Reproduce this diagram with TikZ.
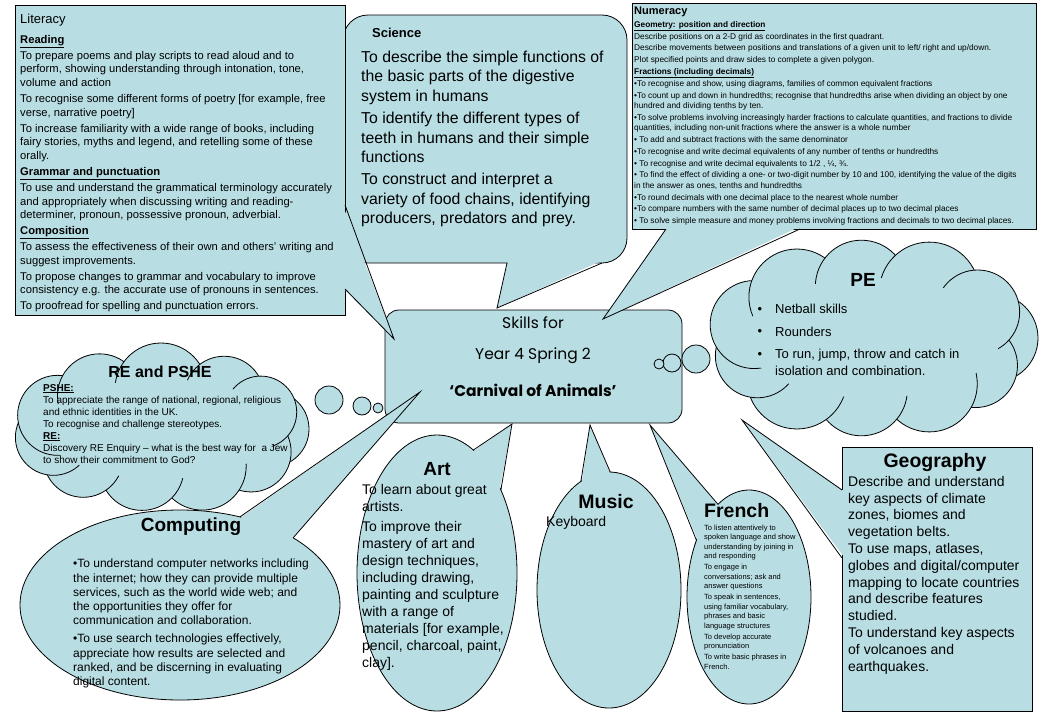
\documentclass[tikz,border=0pt]{standalone}
\usepackage{fontspec}
\setmainfont{Liberation Sans}
\newfontfamily\comicfont{Poppins}
\definecolor{skyfill}{RGB}{184,222,228}

\begin{document}
\begin{tikzpicture}[x=1pt, y=-1pt,
  bubble/.style={draw=black, line width=0.8pt, fill=skyfill},
  tailfill/.style={fill=skyfill},
  tailedge/.style={draw=black, line width=0.8pt},
  txt/.style={anchor=north west, inner sep=0pt, align=left},
  head/.style={inner sep=0pt, font=\bfseries}]
  \useasboundingbox (0,0) rectangle (1040,720);

  % centre box
  \node[bubble, rounded corners=14pt, minimum width=297pt,
        minimum height=113pt, inner sep=0pt] (skills) at (533.5,366.5) {};
  \node[inner sep=0pt, font=\comicfont\fontsize{15.5}{18}\selectfont]
    (skillsA) at (533,323) {Skills for};
  \node[inner sep=0pt, font=\comicfont\fontsize{15.5}{18}\selectfont]
    (skillsB) at (533,356) {Year 4 Spring 2};
  \node[inner sep=0pt, font=\comicfont\bfseries\fontsize{15.5}{18}\selectfont]
    (skillsC) at (533,390) {‘Carnival of Animals’};

  % where the tails point
  \coordinate (litTip) at (394,339);
  \coordinate (sciTip) at (497,308);
  \coordinate (numTip) at (603,319);
  \coordinate (compTip) at (420,392);
  \coordinate (artTip) at (512,424);
  \coordinate (musTip) at (590,425);
  \coordinate (freTip) at (650,425);
  \coordinate (geoTip) at (742,420);

  % science
  \draw[bubble, rounded corners=25pt] (343,15) rectangle (627,263);
  \fill[tailfill] (508,261) -- (sciTip) -- (601,261) -- cycle;
  \draw[tailedge] (507,263) -- (sciTip) -- (602,263);
  \node[head, anchor=west, font=\bfseries\fontsize{13}{15}\selectfont]
    (sciHead) at (372,33) {Science};
  \node[txt, font=\fontsize{15.8}{19.3}\selectfont] (sciText) at (361,51)
    {To describe the simple functions of\\
     the basic parts of the digestive\\
     system in humans\\[3.2pt]
     To identify the different types of\\
     teeth in humans and their simple\\
     functions\\[3.2pt]
     To construct and interpret a\\
     variety of food chains, identifying\\
     producers, predators and prey.};

  % literacy
  \draw[bubble] (15,5) rectangle (345,315);
  \fill[tailfill] (343,206) -- (litTip) -- (343,288) -- cycle;
  \draw[tailedge] (345,205) -- (litTip) -- (345,289);
  \node[anchor=west, inner sep=0pt, font=\fontsize{13}{15}\selectfont]
    (litHead) at (20,20) {Literacy};
  \node[txt, font=\fontsize{11.2}{13.7}\selectfont] (litText) at (20,35)
    {\textbf{\underline{Reading}}\\[2.2pt]
     To prepare poems and play scripts to read aloud and to\\
     perform, showing understanding through intonation, tone,\\
     volume and action\\[2.2pt]
     To recognise some different forms of poetry [for example, free\\
     verse, narrative poetry]\\[2.2pt]
     To increase familiarity with a wide range of books, including\\
     fairy stories, myths and legend, and retelling some of these\\
     orally.\\[2.2pt]
     \textbf{\underline{Grammar and punctuation}}\\[2.2pt]
     To use and understand the grammatical terminology accurately\\
     and appropriately when discussing writing and reading-\\
     determiner, pronoun, possessive pronoun, adverbial.\\[2.2pt]
     \textbf{\underline{Composition}}\\[2.2pt]
     To assess the effectiveness of their own and others’ writing and\\
     suggest improvements.\\[2.2pt]
     To propose changes to grammar and vocabulary to improve\\
     consistency e.g. the accurate use of pronouns in sentences.\\[2.2pt]
     To proofread for spelling and punctuation errors.};

  % numeracy
  \draw[bubble] (632,3) rectangle (1036,229);
  \fill[tailfill] (667,227) -- (numTip) -- (799,227) -- cycle;
  \draw[tailedge] (666,229) -- (numTip) -- (800,229);
  \node[head, anchor=west, font=\bfseries\fontsize{11}{13}\selectfont]
    (numHead) at (634,12) {Numeracy};
  \node[txt, font=\fontsize{8.3}{10.4}\selectfont] (numText) at (634,21)
    {\textbf{\underline{Geometry: position and direction}}\\[1.4pt]
     Describe positions on a 2-D grid as coordinates in the first quadrant.\\[1.4pt]
     Describe movements between positions and translations of a given unit to left/ right and up/down.\\[1.4pt]
     Plot specified points and draw sides to complete a given polygon.\\[1.4pt]
     \textbf{\underline{Fractions (including decimals)}}\\[1.4pt]
     •To recognise and show, using diagrams, families of common equivalent fractions\\[1.4pt]
     •To count up and down in hundredths; recognise that hundredths arise when dividing an object by one\\
     hundred and dividing tenths by ten.\\[1.4pt]
     •To solve problems involving increasingly harder fractions to calculate quantities, and fractions to divide\\
     quantities, including non-unit fractions where the answer is a whole number\\[1.4pt]
     • To add and subtract fractions with the same denominator\\[1.4pt]
     •To recognise and write decimal equivalents of any number of tenths or hundredths\\[1.4pt]
     • To recognise and write decimal equivalents to 1/2 , ¼, ¾.\\[1.4pt]
     • To find the effect of dividing a one- or two-digit number by 10 and 100, identifying the value of the digits\\
     in the answer as ones, tenths and hundredths\\[1.4pt]
     •To round decimals with one decimal place to the nearest whole number\\[1.4pt]
     •To compare numbers with the same number of decimal places up to two decimal places\\[1.4pt]
     • To solve simple measure and money problems involving fractions and decimals to two decimal places.};

  % PE cloud: puffs, then the middle filled over their seams
  \foreach \a/\r in {0/44, 32/42, 62/48, 95/46, 128/50, 160/42,
                     195/44, 232/48, 265/46, 298/50, 330/42}
    \draw[bubble] ({872+122*cos(\a)},{338+52*sin(\a)}) circle [radius=\r];
  \fill[skyfill] (872,338) ellipse [x radius=128, y radius=60];
  \draw[bubble] (696,359) circle [radius=14];
  \draw[bubble] (672,363) circle [radius=9];
  \draw[bubble] (659,364) circle [radius=5];
  \node[head, font=\bfseries\fontsize{19}{21}\selectfont] (peHead) at (863,280) {PE};
  \foreach \y/\n in {310/1, 332.5/2, 355/3}
    \node[inner sep=0pt, font=\fontsize{13}{15}\selectfont] (peDot\n) at (760,\y) {•};
  \node[txt, font=\fontsize{13}{17}\selectfont] (peText) at (775,304)
    {Netball skills\\[5.5pt]
     Rounders\\[5.5pt]
     To run, jump, throw and catch in\\
     isolation and combination.};

  % geography
  \draw[bubble] (842,447) rectangle (1032,711);
  \fill[tailfill] (844,491) -- (geoTip) -- (844,557) -- cycle;
  \draw[tailedge] (842,490) -- (geoTip) -- (842,558);
  \node[head, font=\bfseries\fontsize{19.5}{22}\selectfont] (geoHead) at (935,462) {Geography};
  \node[txt, font=\fontsize{14}{16.8}\selectfont] (geoText) at (848,476)
    {Describe and understand\\
     key aspects of climate\\
     zones, biomes and\\
     vegetation belts.\\
     To use maps, atlases,\\
     globes and digital/computer\\
     mapping to locate countries\\
     and describe features\\
     studied.\\
     To understand key aspects\\
     of volcanoes and\\
     earthquakes.};

  % french
  \draw[bubble] (749,597) ellipse [x radius=62, y radius=107];
  \fill[tailfill] ([shift={(749,597)}]240:60 and 105) -- (freTip)
    -- ([shift={(749,597)}]212:60 and 105) -- cycle;
  \draw[tailedge] ([shift={(749,597)}]240:62 and 107) -- (freTip)
    -- ([shift={(749,597)}]212:62 and 107);
  \node[head, anchor=west, font=\bfseries\fontsize{19.5}{22}\selectfont] (freHead) at (704,511) {French};
  \node[txt, font=\fontsize{7.5}{9.6}\selectfont] (freText) at (704,524.5)
    {To listen attentively to\\
     spoken language and show\\
     understanding by joining in\\
     and responding\\[1.2pt]
     To engage in\\
     conversations; ask and\\
     answer questions\\[1.2pt]
     To speak in sentences,\\
     using familiar vocabulary,\\
     phrases and basic\\
     language structures\\[1.2pt]
     To develop accurate\\
     pronunciation\\[1.2pt]
     To write basic phrases in\\
     French.};

  % music
  \draw[bubble] (609,590) ellipse [x radius=72, y radius=118];
  \fill[tailfill] ([shift={(609,590)}]247:70 and 116) -- (musTip)
    -- ([shift={(609,590)}]271:70 and 116) -- cycle;
  \draw[tailedge] ([shift={(609,590)}]247:72 and 118) -- (musTip)
    -- ([shift={(609,590)}]271:72 and 118);
  \node[head, font=\bfseries\fontsize{19.5}{22}\selectfont] (musHead) at (606,502) {Music};
  \node[anchor=west, inner sep=0pt, font=\fontsize{14}{16}\selectfont] (musText) at (546,523) {Keyboard};

  % art
  \draw[bubble] (437,573) ellipse [x radius=80, y radius=138];
  \fill[tailfill] ([shift={(437,573)}]297:78 and 136) -- (artTip)
    -- ([shift={(437,573)}]323:78 and 136) -- cycle;
  \draw[tailedge] ([shift={(437,573)}]297:80 and 138) -- (artTip)
    -- ([shift={(437,573)}]323:80 and 138);
  \node[head, font=\bfseries\fontsize{19}{21}\selectfont] (artHead) at (437,469) {Art};
  \node[txt, font=\fontsize{14}{17}\selectfont] (artText) at (362,484)
    {To learn about great\\
     artists.\\[3pt]
     To improve their\\
     mastery of art and\\
     design techniques,\\
     including drawing,\\
     painting and sculpture\\
     with a range of\\
     materials [for example,\\
     pencil, charcoal, paint,\\
     clay].};

  % RE and PSHE cloud
  \foreach \a/\r in {0/38, 35/40, 68/44, 100/42, 135/40, 168/38,
                     200/40, 236/42, 270/46, 305/40, 335/36}
    \draw[bubble] ({161+110*cos(\a)},{429+40*sin(\a)}) circle [radius=\r];
  \fill[skyfill] (161,429) ellipse [x radius=118, y radius=50];
  \draw[bubble] (329,400) circle [radius=14];
  \draw[bubble] (362,406) circle [radius=9];
  \draw[bubble] (378,408) circle [radius=5];
  \node[head, font=\bfseries\fontsize{16}{18}\selectfont] (reHead) at (160,372) {RE and PSHE};
  \node[txt, font=\fontsize{10}{12}\selectfont] (reText) at (43,384)
    {\textbf{\underline{PSHE:}}\\
     To appreciate the range of national, regional, religious\\
     and ethnic identities in the UK.\\
     To recognise and challenge stereotypes.\\
     \textbf{\underline{RE:}}\\
     Discovery RE Enquiry – what is the best way for\ \ a Jew\\
     to show their commitment to God?};

  % computing
  \draw[bubble] (180,605) ellipse [x radius=160, y radius=95];
  \fill[tailfill] ([shift={(180,605)}]292:158 and 93) -- (compTip)
    -- ([shift={(180,605)}]315:158 and 93) -- cycle;
  \draw[tailedge] ([shift={(180,605)}]292:160 and 95) -- (compTip)
    -- ([shift={(180,605)}]315:160 and 95);
  \node[head, font=\bfseries\fontsize{19}{21}\selectfont] (compHead) at (191,527) {Computing};
  \node[txt, font=\fontsize{12}{14.2}\selectfont] (compText) at (73,559)
    {•To understand computer networks including\\
     the internet; how they can provide multiple\\
     services, such as the world wide web; and\\
     the opportunities they offer for\\
     communication and collaboration.\\[4pt]
     •To use search technologies effectively,\\
     appreciate how results are selected and\\
     ranked, and be discerning in evaluating\\
     digital content.};
\end{tikzpicture}
\end{document}
